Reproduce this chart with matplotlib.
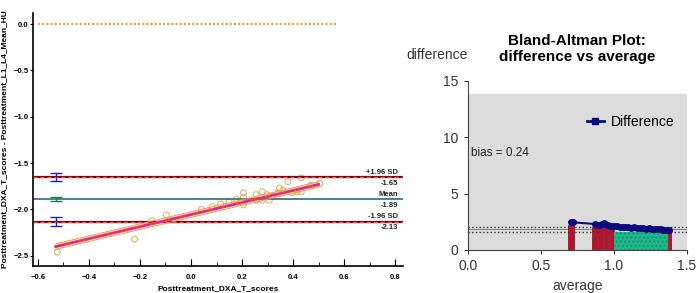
import matplotlib.pyplot as plt
from matplotlib.ticker import MultipleLocator
import numpy as np

# left panel data
tscore = [-0.524, -0.221, -0.153, -0.096, 0.041, 0.083, 0.116, 0.149, 0.178, 0.206,
          0.206, 0.206, 0.255, 0.255, 0.28, 0.28, 0.297, 0.307, 0.32, 0.34,
          0.347, 0.36, 0.38, 0.396, 0.416, 0.432, 0.432, 0.47, 0.505]
diff = [-2.46, -2.32, -2.12, -2.06, -2.0, -1.97, -1.94, -1.92, -1.89, -1.82,
        -1.87, -1.95, -1.84, -1.90, -1.81, -1.90, -1.84, -1.90, -1.86, -1.82,
        -1.77, -1.79, -1.70, -1.82, -1.81, -1.66, -1.81, -1.74, -1.72]
upper_loa = -1.65
mean_diff = -1.89
lower_loa = -2.13
ci_upper = 0.04
ci_mean = 0.02
ci_lower = 0.05
reg_x = [-0.53, 0.50]
reg_y = [-2.40, -1.73]

# right panel data
avg = [0.71, 0.72, 0.87, 0.89, 0.90, 0.92, 0.93, 0.94, 0.96, 0.98, 1.00, 1.02, 1.04,
       1.06, 1.08, 1.10, 1.12, 1.14, 1.16, 1.18, 1.20, 1.22, 1.24, 1.26, 1.28, 1.30,
       1.32, 1.34, 1.36, 1.38]
dif = [2.5, 2.45, 2.3, 2.25, 2.2, 2.3, 2.4, 2.3, 2.2, 2.15, 2.1, 2.1, 2.05,
       2.05, 2.0, 2.0, 1.95, 2.0, 1.95, 1.95, 1.95, 1.9, 1.95, 1.9, 1.9, 1.85,
       1.85, 1.8, 1.8, 1.75]
red_left = [0.69, 0.85, 0.89, 0.93, 0.965, 1.37]
red_width = [0.04, 0.035, 0.035, 0.03, 0.035, 0.02]
red_height = [2.2, 2.0, 2.0, 2.0, 1.95, 1.7]
green_left = 1.0
green_width = 0.37
green_height = 1.6
bias_lines = [2.07, 1.62]
bias_mid = 1.83

plt.rcParams['font.family'] = ['Liberation Sans', 'DejaVu Sans']
fig = plt.figure(figsize=(6.98, 2.93), dpi=100)

ax = fig.add_axes([0.047, 0.092, 0.53, 0.864])
ax.set_xlim(-0.62, 0.83)
ax.set_ylim(-2.61, 0.12)
ax.plot([-0.6, 0.57], [0, 0], ls=(0, (1, 1)), color='#f0a030', lw=1.5)
for yv in [upper_loa, lower_loa]:
    ax.axhline(yv, color='#6b0010', lw=1.6)
    ax.axhline(yv, color='#ff5050', lw=1.0, ls=(0, (3, 2)))
ax.axhline(mean_diff, color='#1f6f8b', lw=1.2)
ax.errorbar([-0.53], [upper_loa], yerr=ci_upper, color='#2020c0', capsize=4, lw=1)
ax.errorbar([-0.53], [mean_diff], yerr=ci_mean, color='#208040', capsize=4, lw=1)
ax.errorbar([-0.53], [lower_loa], yerr=ci_lower, color='#2020c0', capsize=4, lw=1)
rx = np.array(reg_x)
ry = np.array(reg_y)
ax.plot(rx, ry + 0.03, color='#e0a040', lw=0.7)
ax.plot(rx, ry - 0.03, color='#e0a040', lw=0.7)
ax.plot(rx, ry, color='#ff4040', lw=2.2)
ax.plot(rx, ry, color='#c020e0', lw=1, ls='-.')
ax.scatter(tscore, diff, s=18, facecolors='none', edgecolors='#e0b070', lw=0.8)
for yv, top, bot in [(upper_loa, '+1.96 SD', '-1.65'), (mean_diff, 'Mean', '-1.89'),
                     (lower_loa, '-1.96 SD', '-2.13')]:
    ax.text(0.812, yv + 0.015, top, ha='right', va='bottom', fontsize=5.5,
            color='#222', fontweight='bold')
    ax.text(0.812, yv - 0.03, bot, ha='right', va='top', fontsize=5.5,
            color='#222', fontweight='bold')
ax.spines['top'].set_visible(False)
ax.spines['right'].set_visible(False)
ax.spines['left'].set_linewidth(1.2)
ax.spines['bottom'].set_linewidth(1.2)
ax.set_xticks(np.arange(-0.6, 0.81, 0.2))
ax.xaxis.set_minor_locator(MultipleLocator(0.1))
ax.yaxis.set_major_locator(MultipleLocator(0.5))
ax.tick_params(axis='x', direction='in', length=5, labelsize=5.5, pad=6)
ax.tick_params(axis='x', which='minor', direction='in', length=3)
ax.tick_params(axis='y', length=2, labelsize=5.5, pad=1)
for lbl in ax.get_xticklabels() + ax.get_yticklabels():
    lbl.set_fontweight('bold')
ax.set_xlabel('Posttreatment_DXA_T_scores', fontsize=6, labelpad=3, fontweight='bold')
ax.set_ylabel('Posttreatment_DXA_T_scores - Posttreatment_L1_L4_Mean_HU', fontsize=6,
              fontweight='bold')
ax.yaxis.set_label_coords(-0.068, 0.5)

bx = fig.add_axes([0.670, 0.147, 0.314, 0.577])
bx.set_xlim(0, 1.5)
bx.set_ylim(0, 15)
bx.axhspan(0, 13.8, color='#dcdcdc', zorder=0)
bx.bar(red_left, red_height, width=red_width, align='edge', color='#b5122e',
       edgecolor='#800818', lw=0.5, zorder=2)
bx.bar([green_left], [green_height], width=green_width, align='edge', color='#1fb98a',
       hatch='....', edgecolor='#159070', lw=0, zorder=2)
for yv in bias_lines:
    bx.axhline(yv, color='#333', ls=':', lw=1, zorder=1)
bx.axhline(bias_mid, color='#888', lw=0.8, zorder=1)
bx.plot(avg, dif, color='#0a0a80', marker='o', ms=4, lw=1.5, zorder=3)
bx.plot([], [], color='#0a0a80', marker='s', ms=5, lw=2, label='Difference')
bx.legend(loc='upper right', bbox_to_anchor=(1.0, 0.87), frameon=False, fontsize=10,
          handlelength=1.2, handletextpad=0.5)
bx.text(0.02, 8.3, 'bias = 0.24', fontsize=8.5, color='#222')
bx.spines['top'].set_visible(False)
bx.spines['right'].set_visible(False)
for s in ['left', 'bottom']:
    bx.spines[s].set_color('#444')
bx.set_xticks([0.0, 0.5, 1.0, 1.5])
bx.set_yticks([0, 5, 10, 15])
bx.tick_params(labelsize=10, colors='#333', length=3)
bx.set_xlabel('average', fontsize=10, color='#333')
bx.set_title('Bland-Altman Plot:\ndifference vs average', fontsize=11, fontweight='bold', pad=14)
fig.text(0.626, 0.8, 'difference', ha='center', fontsize=10, color='#333')

fig.savefig('out.png', dpi=100)
